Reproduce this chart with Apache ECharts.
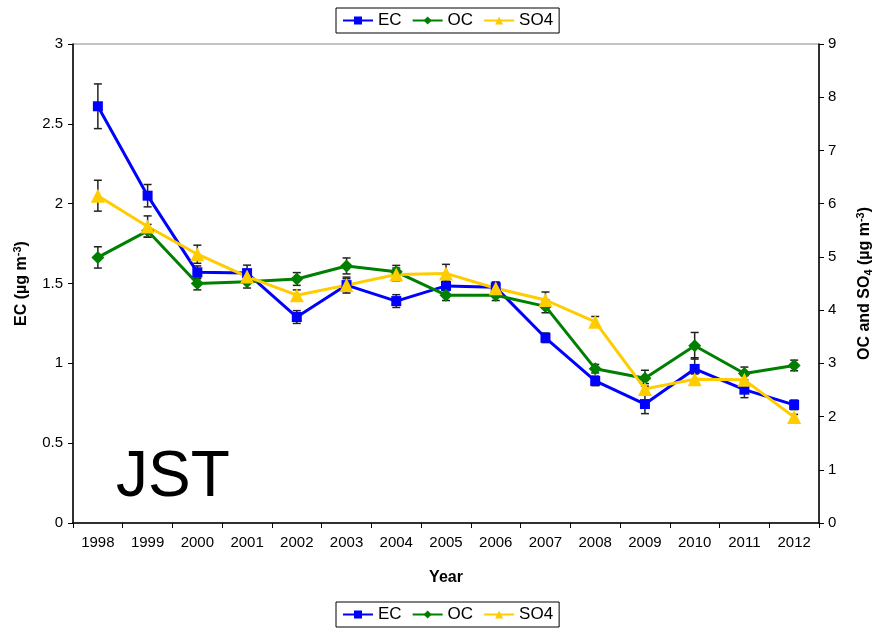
<!DOCTYPE html>
<html><head><meta charset="utf-8">
<script src="https://cdn.jsdelivr.net/npm/echarts@6/dist/echarts.min.js"></script>
<style>html,body{margin:0;padding:0;background:#fff}#c{width:873px;height:629px}</style>
</head><body><div id="c"></div>
<script>
var years = ['1998','1999','2000','2001','2002','2003','2004','2005','2006','2007','2008','2009','2010','2011','2012'];
var ecValues = [2.61,2.05,1.57,1.565,1.29,1.49,1.39,1.485,1.476,1.16,0.89,0.745,0.965,0.835,0.74];
var ecErr = [0.14,0.07,0.04,0.05,0.04,0.05,0.04,0.03,0.03,0.03,0.03,0.06,0.07,0.05,0.03];
var ocValues = [4.99,5.49,4.50,4.535,4.585,4.83,4.72,4.28,4.28,4.07,2.90,2.72,3.33,2.81,2.96];
var ocErr = [0.2,0.12,0.12,0.12,0.12,0.15,0.12,0.1,0.1,0.12,0.08,0.15,0.25,0.12,0.1];
var so4Values = [6.15,5.57,5.05,4.63,4.28,4.47,4.67,4.69,4.41,4.19,3.78,2.52,2.70,2.69,1.99];
var so4Err = [0.29,0.2,0.17,0.12,0.1,0.12,0.12,0.17,0.12,0.15,0.1,0.1,0.1,0.08,0.05];
var leftTicks = {min:0, max:3, interval:0.5};
var rightTicks = {min:0, max:9, interval:1};

function errData(v, e){ return v.map(function(x,i){ return [i, x-e[i], x+e[i]]; }); }
function errSeries(v, e, axis){
  return {
    type:'custom', yAxisIndex:axis, z:1, silent:true,
    data: errData(v,e),
    renderItem: function(params, api){
      var lo = api.coord([api.value(0), api.value(1)]);
      var hi = api.coord([api.value(0), api.value(2)]);
      var w = 4;
      var st = {stroke:'#222', lineWidth:1.5};
      return {type:'group', children:[
        {type:'line', shape:{x1:lo[0],y1:lo[1],x2:hi[0],y2:hi[1]}, style:st},
        {type:'line', shape:{x1:lo[0]-w,y1:lo[1],x2:lo[0]+w,y2:lo[1]}, style:st},
        {type:'line', shape:{x1:hi[0]-w,y1:hi[1],x2:hi[0]+w,y2:hi[1]}, style:st}
      ]};
    }
  };
}
var font = 'Liberation Sans, Arial, sans-serif';
var legendBase = {
  data:['EC','OC','SO4'], left:336, itemWidth:30, itemHeight:10, itemGap:10,
  borderColor:'#000', borderWidth:1, padding:[4,6], backgroundColor:'#fff',
  textStyle:{fontFamily:font, fontSize:17, color:'#000'}
};
var chart = echarts.init(document.getElementById('c'));
chart.setOption({
  animation:false,
  textStyle:{fontFamily:font},
  grid:{left:73, right:54, top:44, bottom:106, outerBoundsMode:'none', containLabel:false,
        show:true, borderColor:'#888', borderWidth:1},
  legend:[
    Object.assign({top:8}, legendBase),
    Object.assign({top:602}, legendBase)
  ],
  xAxis:{
    type:'category', data:years, boundaryGap:true,
    name:'Year', nameLocation:'middle', nameGap:47,
    nameTextStyle:{fontFamily:font, fontSize:16, fontWeight:'bold', color:'#000'},
    axisLine:{lineStyle:{color:'#000', width:1.5}},
    axisTick:{show:true, length:5, lineStyle:{color:'#000'}},
    axisLabel:{fontFamily:font, fontSize:15, color:'#000', margin:12}
  },
  yAxis:[
    {type:'value', min:leftTicks.min, max:leftTicks.max, interval:leftTicks.interval, position:'left',
     name:'{t|EC (µg m}{s|-3}{t|)}', nameLocation:'middle', nameRotate:90, nameGap:42,
     nameTextStyle:{rich:{t:{fontFamily:font, fontSize:16, fontWeight:'bold', color:'#000'},
                          s:{fontFamily:font, fontSize:11, fontWeight:'bold', color:'#000', verticalAlign:'top', padding:[0,0,8,0]}}},
     axisLine:{show:true, lineStyle:{color:'#000', width:1.5}},
     axisTick:{show:true, length:5, lineStyle:{color:'#000'}},
     axisLabel:{fontFamily:font, fontSize:15, color:'#000', margin:10},
     splitLine:{show:false}},
    {type:'value', min:rightTicks.min, max:rightTicks.max, interval:rightTicks.interval, position:'right',
     name:'{t|OC and SO}{b|4}{t| (µg m}{s|-3}{t|)}', nameLocation:'middle', nameRotate:90, nameGap:36,
     nameTextStyle:{rich:{t:{fontFamily:font, fontSize:16, fontWeight:'bold', color:'#000'},
                          b:{fontFamily:font, fontSize:11, fontWeight:'bold', color:'#000', verticalAlign:'bottom', padding:[8,0,0,0]},
                          s:{fontFamily:font, fontSize:11, fontWeight:'bold', color:'#000', verticalAlign:'top', padding:[0,0,8,0]}}},
     axisLine:{show:true, lineStyle:{color:'#000', width:1.5}},
     axisTick:{show:true, length:5, lineStyle:{color:'#000'}},
     axisLabel:{fontFamily:font, fontSize:15, color:'#000', margin:9},
     splitLine:{show:false}}
  ],
  graphic:[{type:'text', left:116, top:446, style:{text:'JST', fontFamily:font, fontSize:64, fill:'#000'}}],
  series:[
    errSeries(ecValues, ecErr, 0),
    errSeries(ocValues, ocErr, 1),
    errSeries(so4Values, so4Err, 1),
    {name:'EC', type:'line', yAxisIndex:0, data:ecValues, z:3, color:'#0000FF',
     symbol:'rect', symbolSize:10, lineStyle:{width:3, color:'#0000FF'}, itemStyle:{color:'#0000FF'}},
    {name:'OC', type:'line', yAxisIndex:1, data:ocValues, z:3, color:'#008000',
     symbol:'diamond', symbolSize:13, lineStyle:{width:3, color:'#008000'}, itemStyle:{color:'#008000'}},
    {name:'SO4', type:'line', yAxisIndex:1, data:so4Values, z:3, color:'#FFCC00',
     symbol:'triangle', symbolSize:14, lineStyle:{width:3, color:'#FFCC00'}, itemStyle:{color:'#FFCC00'}}
  ]
});
</script></body></html>
